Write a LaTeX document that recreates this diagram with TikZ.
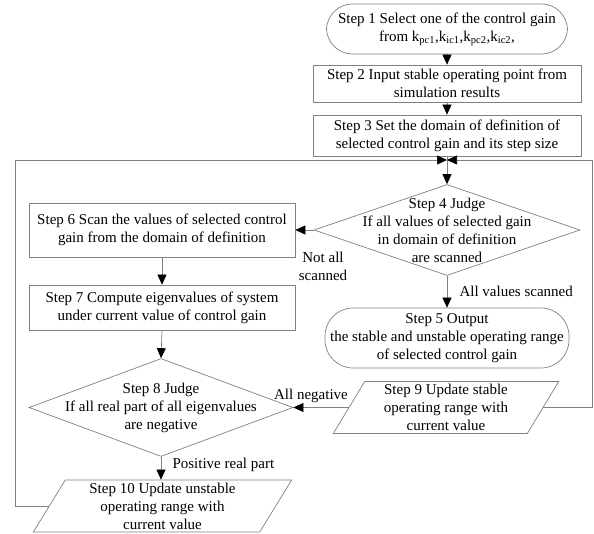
\documentclass[tikz,border=0pt]{standalone}
\usepackage{fontspec}
\setmainfont{Liberation Serif}
\usetikzlibrary{arrows.meta,shapes.geometric,positioning,calc}
\definecolor{flowgray}{rgb}{0.50,0.50,0.50}

\begin{document}
\begin{tikzpicture}[x=1pt, y=1pt,
  every node/.style={font=\fontsize{15}{18}\selectfont, align=center},
  stepbox/.style={draw=flowgray, line width=0.7pt, inner sep=0pt},
  termbox/.style={stepbox, rounded corners=26pt},
  judgebox/.style={stepbox, diamond},
  iobox/.style={stepbox, trapezium, trapezium left angle=63.4,
    trapezium right angle=116.6, trapezium stretches=true, inner sep=1pt},
  flow/.style={draw=flowgray, line width=0.7pt,
    -{Triangle[length=10pt, width=9pt, color=black]}}]
  \useasboundingbox (0,0) rectangle (594,533);
  % Main column
  \node[termbox, minimum width=241pt, minimum height=50pt] (s1) at (447,504)
    {Step 1 Select one of the control gain\\from k\textsubscript{pc1},k\textsubscript{ic1},k\textsubscript{pc2},k\textsubscript{ic2},};
  \node[stepbox, minimum width=268pt, minimum height=37pt] (s2) at (447,449.5)
    {Step 2 Input stable operating point from\\simulation results};
  \node[stepbox, minimum width=268pt, minimum height=41pt] (s3) at (447,397.5)
    {Step 3 Set the domain of definition of\\selected control gain and its step size};
  \coordinate (merge) at (447,373);
  \node[judgebox, minimum width=266pt, minimum height=91pt,
    label={center:{Step 4 Judge\\If all values of selected gain\\in domain of definition\\are scanned}}]
    (s4) at (447,303) {};
  \node[termbox, rounded corners=28pt, minimum width=244pt, minimum height=60pt] (s5) at (447,195)
    {Step 5 Output\\the stable and unstable operating range\\of selected control gain};
  \node[iobox, minimum width=226pt, minimum height=52pt] (s9) at (446,125.5)
    {Step 9 Update stable\\operating range with\\current value};
  % Left column
  \node[stepbox, minimum width=266pt, minimum height=54pt] (s6) at (162,303)
    {Step 6 Scan the values of selected control\\gain from the domain of definition};
  \node[stepbox, minimum width=266pt, minimum height=45pt] (s7) at (162,225.5)
    {Step 7 Compute eigenvalues of system\\under current value of control gain};
  \node[judgebox, minimum width=264pt, minimum height=98pt,
    label={center:{Step 8 Judge\\If all real part of all eigenvalues\\are negative}}]
    (s8) at (161,125.5) {};
  \node[iobox, minimum width=259pt, minimum height=52pt] (s10) at (162.5,27)
    {Step 10 Update unstable\\operating range with\\current value};
  % Loop corners
  \coordinate (rloop) at (592,373);
  \coordinate (lloop) at (15,373);
  % Connectors
  \draw[flow] (s1.south) -- (s2.north);
  \draw[flow] (s2.south) -- (s3.north);
  \draw[flow] (s3.south) -- (s4.north);
  \draw[flow] (s4.south) -- (s5.north);
  \draw[flow] (s4.west) -- (s6.east);
  \draw[flow] (s6.south) -- (s7.north);
  \draw[flow] (s7.south) -- (s8.north);
  \draw[flow] (s8.south) -- (s8.south |- s10.north);
  \draw[flow] (s9.left side) -- (s8.east);
  \draw[flow] (s9.right side) -| (rloop) -- (merge);
  \draw[flow] (s10.left side) -| (lloop) -- (merge);
  % Branch labels
  \node (notall) at (323,267) {Not all\\scanned};
  \node[anchor=west] (allscan) at (456,242) {All values scanned};
  \node (allneg) at (311,137) {All negative};
  \node[anchor=west] (posreal) at (169,68) {Positive real part};
\end{tikzpicture}
\end{document}
